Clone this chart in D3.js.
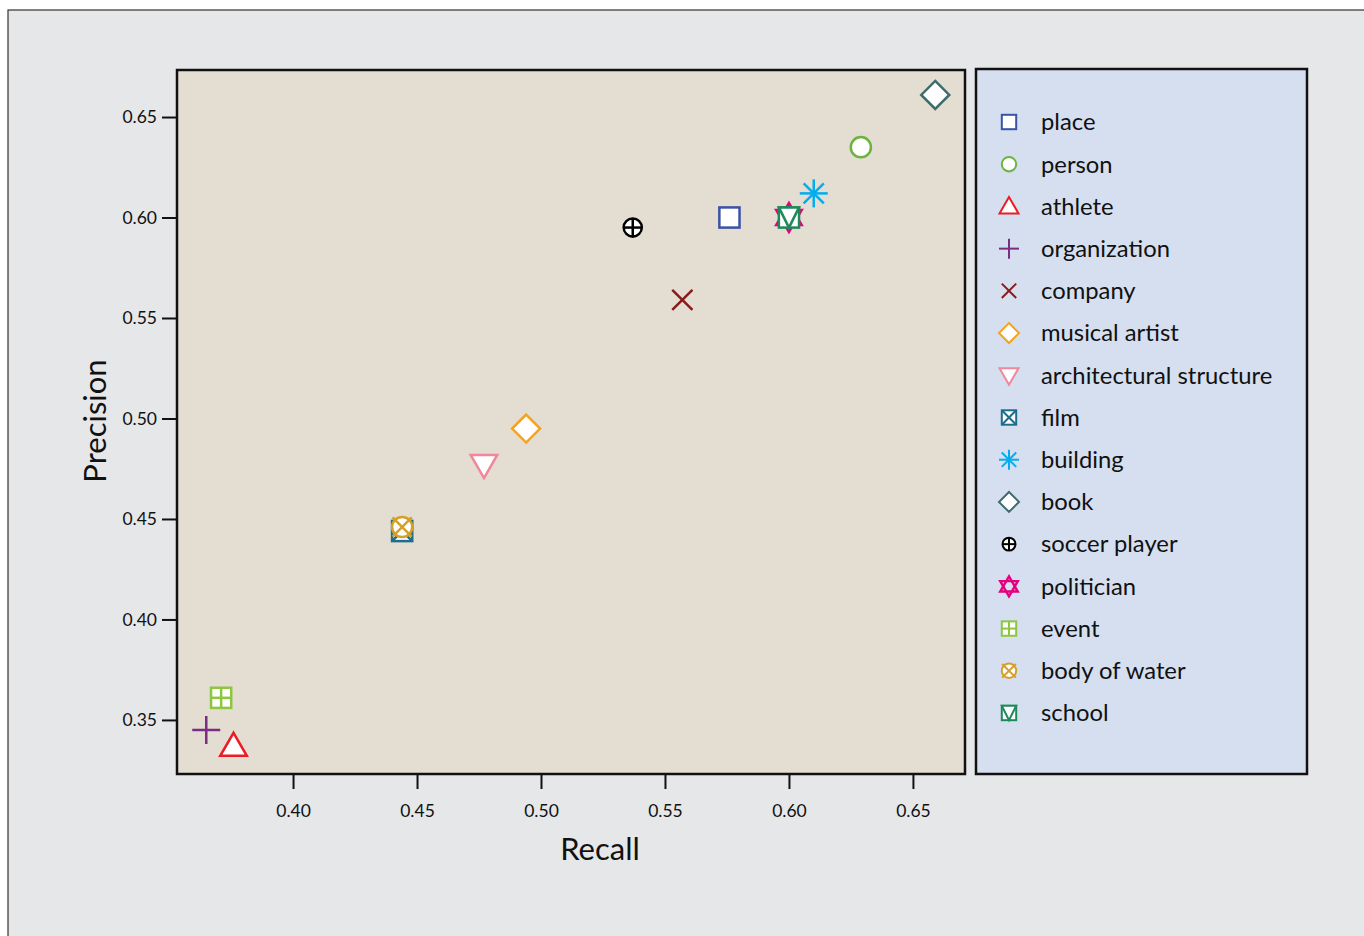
<!DOCTYPE html>
<html>
  <head>
    <script src="https://cdnjs.cloudflare.com/ajax/libs/d3/7.8.5/d3.min.js"></script>
    <style>
    body {
      margin: 0;
      background: #fff;
    }
    text {
      font-family: Lato, "Open Sans", sans-serif;
      fill: #111;
    }
    .axis path { display: none; }
    .axis line { stroke: #111; stroke-width: 2; }
    .axis text { font-size: 17.5px; }
    </style>
  </head>
  <body>
    <svg id="chart" width="1364" height="936"></svg>
    <script>
    var categories = ['place', 'person', 'athlete', 'organization', 'company', 'musical artist',
                      'architectural structure', 'film', 'building', 'book', 'soccer player',
                      'politician', 'event', 'body of water', 'school'];
    var recall    = [0.576, 0.629, 0.376, 0.365, 0.557, 0.494, 0.477, 0.444, 0.610, 0.659, 0.537, 0.600, 0.371, 0.444, 0.600];
    var precision = [0.600, 0.635, 0.337, 0.345, 0.559, 0.495, 0.477, 0.444, 0.612, 0.661, 0.595, 0.600, 0.361, 0.446, 0.600];
    var shapes = ['square', 'circle', 'triangle', 'plus', 'cross', 'diamond', 'triangleDown', 'squareX',
                  'asterisk', 'diamond', 'circlePlus', 'star', 'squarePlus', 'circleX', 'squareTri'];
    var colors = ['#3a53a4', '#6db33f', '#ed1c24', '#7b2c83', '#8b1a1a', '#f7a21b', '#f0879c', '#1f6d8c',
                  '#00aeef', '#3f6b6b', '#000000', '#e6007e', '#8dc63f', '#d4a02a', '#1e8a5a'];
    var xTicks = [0.40, 0.45, 0.50, 0.55, 0.60, 0.65];
    var yTicks = [0.35, 0.40, 0.45, 0.50, 0.55, 0.60, 0.65];

    var svg = d3.select('#chart');

    // outer panel
    svg.append('rect')
      .attr('x', 8).attr('y', 10)
      .attr('width', 1400).attr('height', 1000)
      .style('fill', '#e6e7e9')
      .style('stroke', '#333')
      .style('stroke-width', 1.2);

    var plot = {left: 177, top: 70, right: 965, bottom: 774};

    var x = d3.scaleLinear().domain([0.3532, 0.671]).range([plot.left, plot.right]);
    var y = d3.scaleLinear().domain([0.3231, 0.6734]).range([plot.bottom, plot.top]);

    svg.append('rect')
      .attr('x', plot.left).attr('y', plot.top)
      .attr('width', plot.right - plot.left).attr('height', plot.bottom - plot.top)
      .style('fill', '#e3ddd2')
      .style('stroke', '#111')
      .style('stroke-width', 2.5);

    svg.append('g')
      .attr('class', 'axis')
      .attr('transform', 'translate(0,' + (plot.bottom + 1) + ')')
      .call(d3.axisBottom(x).tickValues(xTicks).tickFormat(d3.format('.2f')).tickSize(14).tickPadding(16));

    svg.append('g')
      .attr('class', 'axis')
      .attr('transform', 'translate(' + (plot.left - 1) + ',0)')
      .call(d3.axisLeft(y).tickValues(yTicks).tickFormat(d3.format('.2f')).tickSize(14).tickPadding(5));

    svg.append('text')
      .attr('x', 600).attr('y', 860)
      .attr('text-anchor', 'middle')
      .style('font-size', '31px')
      .text('Recall');

    svg.append('text')
      .attr('transform', 'translate(106,421) rotate(-90)')
      .attr('text-anchor', 'middle')
      .style('font-size', '31px')
      .text('Precision');

    function drawMarker(g, shape, color, r, sw) {
      function line(x1, y1, x2, y2) {
        g.append('line').attr('x1', x1).attr('y1', y1).attr('x2', x2).attr('y2', y2)
          .style('stroke', color).style('stroke-width', sw);
      }
      function poly(pts) {
        g.append('polygon').attr('points', pts.map(function(p) { return p.join(','); }).join(' '))
          .style('fill', 'white').style('stroke', color).style('stroke-width', sw)
          .style('stroke-linejoin', 'miter');
      }
      function square(s) {
        g.append('rect').attr('x', -s).attr('y', -s).attr('width', 2 * s).attr('height', 2 * s)
          .style('fill', 'white').style('stroke', color).style('stroke-width', sw);
      }
      function circ(s) {
        g.append('circle').attr('r', s)
          .style('fill', 'white').style('stroke', color).style('stroke-width', sw);
      }
      var s = r * 0.72;
      switch (shape) {
        case 'square': square(s); break;
        case 'circle': circ(s); break;
        case 'triangle': poly([[0, -r * 0.95], [r * 0.95, r * 0.7], [-r * 0.95, r * 0.7]]); break;
        case 'triangleDown': poly([[0, r * 0.95], [r * 0.95, -r * 0.7], [-r * 0.95, -r * 0.7]]); break;
        case 'plus': line(-r, 0, r, 0); line(0, -r, 0, r); break;
        case 'cross': line(-s, -s, s, s); line(-s, s, s, -s); break;
        case 'diamond': poly([[0, -r], [r, 0], [0, r], [-r, 0]]); break;
        case 'squareX': square(s); line(-s, -s, s, s); line(-s, s, s, -s); break;
        case 'squarePlus': square(s); line(-s, 0, s, 0); line(0, -s, 0, s); break;
        case 'squareTri': square(s); poly([[-s, -s], [s, -s], [0, s]]); break;
        case 'circlePlus': circ(s * 0.9); line(-s * 0.9, 0, s * 0.9, 0); line(0, -s * 0.9, 0, s * 0.9); break;
        case 'circleX':
          circ(s);
          var d = s * 0.95;
          line(-d, -d, d, d); line(-d, d, d, -d);
          break;
        case 'asterisk':
          line(-r, 0, r, 0); line(0, -r, 0, r);
          line(-s, -s, s, s); line(-s, s, s, -s);
          break;
        case 'star':
          poly([[0, -r], [r * 0.88, r * 0.52], [-r * 0.88, r * 0.52]]);
          poly([[0, r], [r * 0.88, -r * 0.52], [-r * 0.88, -r * 0.52]]);
          g.selectAll('polygon').style('fill', 'none').style('stroke-width', sw * 1.2);
          break;
      }
    }

    var idx = d3.range(categories.length);

    svg.append('g').selectAll('g')
      .data(idx)
      .enter()
      .append('g')
      .attr('transform', function(i) { return 'translate(' + x(recall[i]) + ',' + y(precision[i]) + ')'; })
      .each(function(i) { drawMarker(d3.select(this), shapes[i], colors[i], 14, 2.5); });

    // legend
    var legend = svg.append('g');
    legend.append('rect')
      .attr('x', 976).attr('y', 69)
      .attr('width', 331).attr('height', 705)
      .style('fill', '#d5dff0')
      .style('stroke', '#111')
      .style('stroke-width', 2.5);

    var ly = d3.scalePoint().domain(idx).range([122, 713]);

    var items = legend.selectAll('g.item')
      .data(idx)
      .enter()
      .append('g')
      .attr('class', 'item')
      .attr('transform', function(i) { return 'translate(0,' + ly(i) + ')'; });

    items.append('g')
      .attr('transform', 'translate(1009,0)')
      .each(function(i) { drawMarker(d3.select(this), shapes[i], colors[i], 10, 2); });

    items.append('text')
      .attr('x', 1041)
      .attr('dy', '0.35em')
      .style('font-size', '23.8px')
      .text(function(i) { return categories[i]; });
    </script>
  </body>
</html>
